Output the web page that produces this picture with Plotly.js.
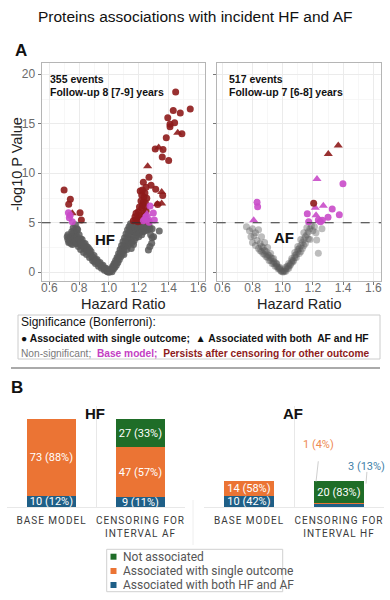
<!DOCTYPE html>
<html><head><meta charset="utf-8">
<script src="https://cdn.plot.ly/plotly-3.0.1.min.js"></script>
<style>
html,body{margin:0;padding:0;background:#fff}
#chart{width:390px;height:600px}
g.x3tick text, g.x4tick text{letter-spacing:1px}
</style>
</head><body><div id="chart"></div>
<script>
// ---------- Panel A data (hazard ratio, -log10 p) ----------
const hfGreyHR = [0.72,0.725,0.73,0.735,0.74,0.745,0.75,0.75,0.755,0.76,0.765,0.77,0.775,0.78,0.78,0.79,0.79,0.795,0.80,0.805,0.81,0.82,0.825,0.83,0.84,0.845,0.85,0.86,0.865,0.87,0.88,0.885,0.89,0.90,0.905,0.91,0.92,0.925,0.93,0.94,0.945,0.95,0.96,0.965,0.97,0.98,0.985,0.99,1.0,
  0.725,0.735,0.745,0.755,0.76,0.765,0.77,0.775,0.785,0.785,0.79,0.80,0.81,0.815,0.815,0.83,0.835,0.85,0.855,0.875,0.87,0.895,0.90,0.915,0.935,0.955,0.975,0.99,0.995,
  1.01,1.015,1.02,1.025,1.03,1.035,1.04,1.045,1.05,1.055,1.06,1.065,1.07,1.075,1.08,1.085,1.09,1.095,1.10,1.105,1.11,1.115,1.12,1.125,1.13,1.135,1.14,1.14,1.145,1.15,1.15,1.16,1.16,1.165,1.17,1.17,1.18,1.18,1.19,1.19,1.20,1.20,1.21,1.21,1.22,1.22,1.23,1.23,1.24,1.25,1.26,1.265,1.27,1.287,1.29,1.29,1.338,
  1.005,1.02,1.03,1.04,1.05,1.06,1.07,1.08,1.09,1.10,1.11,1.12,1.13,1.14,1.15,1.155,1.16,1.17,1.175,1.185,1.195,1.205,1.215,1.225,1.235,1.245,1.255,1.275,1.28,1.30,1.275,1.12,1.10,1.13,1.15];
const hfGreyP = [3.6,3.3,3.0,3.5,3.2,2.9,4.1,3.4,2.8,4.5,3.7,3.1,4.8,4.0,2.9,4.3,3.3,2.6,3.8,2.9,2.3,3.3,2.6,2.0,2.9,2.3,1.8,2.5,2.0,1.5,2.1,1.6,1.2,1.7,1.3,0.9,1.3,1.0,0.6,1.0,0.7,0.4,0.7,0.4,0.2,0.4,0.15,0.05,0.0,
  3.8,3.1,3.6,3.9,3.3,4.2,3.6,3.2,4.4,3.6,2.9,3.3,3.4,2.7,3.0,2.9,2.4,2.6,2.1,1.9,2.3,1.5,1.1,1.2,0.9,0.6,0.35,0.2,0.08,
  0.15,0.35,0.05,0.6,0.3,0.9,0.5,1.2,0.7,1.5,1.0,1.9,1.3,2.3,1.6,2.7,1.9,3.1,2.2,3.5,2.6,3.9,3.0,4.3,3.4,4.6,2.9,3.8,4.9,3.3,4.2,4.6,3.7,2.8,4.9,4.1,4.5,3.5,4.8,4.0,4.4,3.6,4.9,4.2,4.6,3.8,4.8,4.1,4.5,4.85,4.3,2.25,4.7,2.93,3.5,4.4,4.17,
  0.05,0.3,0.55,0.8,1.0,1.4,1.7,2.0,2.4,2.7,3.1,3.5,3.9,4.3,4.7,3.0,4.2,3.2,4.5,3.8,4.4,4.0,4.6,4.2,4.6,4.2,4.5,4.4,3.8,3.6,2.6,2.3,1.8,2.7,2.4];

const hfRedHR = [1.448,1.546,1.432,1.479,1.395,1.441,1.41,1.41,1.49,1.385,1.311,1.363,1.358,1.401,1.269,1.231,1.249,1.283,1.314,1.361,1.327,
  0.699,0.741,0.73,0.806,0.815,
  1.242,1.22,1.254,1.231,1.242,1.22,1.197,1.182,1.19,1.164,1.209,1.21,1.225,1.235,1.215,1.245,1.225,1.25,1.235,1.205,1.2,1.215,1.18,1.23,1.26,1.175,1.195,1.24];
const hfRedP = [18.2,16.5,16.35,16.1,15.6,15.1,14.95,14.7,14.0,13.6,12.45,12.4,11.65,11.3,9.6,9.1,8.6,8.8,8.4,7.75,6.85,
  8.3,7.37,6.87,6.02,5.28,
  8.0,7.8,7.47,7.13,6.63,6.46,6.12,5.96,5.28,5.2,5.79,8.2,8.3,7.6,7.2,7.0,6.8,6.2,6.0,6.6,5.5,5.2,5.3,5.4,5.15,5.6,5.1,5.7];
const hfRedTriHR = [1.462,1.334,1.26,1.354,1.354,1.325,0.754,1.2];
const hfRedTriP  = [14.1,12.6,10.7,8.1,6.95,6.9,5.96,5.25];
const hfMagHR = [1.276,1.298,1.249,1.265,1.305,1.231,0.728,0.734,0.754,1.27,1.24,0.74];
const hfMagP  = [6.7,6.0,5.6,5.35,5.28,5.2,6.02,5.5,5.1,5.05,5.35,5.75];
const hfMagTriHR = [1.255];
const hfMagTriP  = [5.9];

const afGreyHR = [0.76,0.78,0.79,0.80,0.80,0.81,0.82,0.82,0.83,0.84,0.84,0.85,0.86,0.86,0.87,0.88,0.88,0.89,0.90,0.90,0.91,0.92,0.92,0.93,0.94,0.94,0.95,0.96,0.96,0.97,0.98,0.98,0.99,1.0,
  1.01,1.02,1.02,1.03,1.04,1.04,1.05,1.06,1.06,1.07,1.08,1.08,1.09,1.10,1.10,1.11,1.12,1.12,1.13,1.14,1.14,1.15,1.16,1.16,1.17,1.18,1.18,1.19,1.20,1.21,1.22,1.225,1.236,1.26,
  0.85,0.87,0.89,0.91,0.93,0.95,0.97,0.99,1.0,1.01,1.03,1.05,1.07,1.09,1.11,1.13,1.15,1.17,0.86,0.88,0.90,0.92,0.94,0.96,0.98,1.02,1.04,1.06,1.08,1.10,1.12,1.14];
const afGreyP = [4.6,4.2,3.6,4.4,3.0,3.7,2.7,4.0,3.2,2.4,4.3,2.9,2.1,3.6,2.5,1.8,3.0,2.1,1.5,2.5,1.7,1.2,1.9,1.4,0.9,1.4,1.0,0.6,0.9,0.5,0.3,0.5,0.15,0.02,
  0.15,0.35,0.1,0.6,0.4,0.9,0.7,1.0,1.4,1.2,1.5,2.0,1.8,2.1,2.6,2.4,2.7,3.3,3.0,3.3,4.0,3.6,3.8,4.5,4.1,4.4,3.3,4.7,4.2,4.6,4.0,3.26,1.92,4.4,
  2.2,1.9,1.6,1.2,0.9,0.6,0.35,0.1,0.1,0.05,0.35,0.8,1.1,1.5,1.9,2.4,2.9,3.4,2.6,2.2,1.8,1.5,1.1,0.8,0.4,0.5,0.6,1.2,1.7,2.3,2.1,2.7];
const afRedHR = [1.205];
const afRedP  = [6.97];
const afRedTriHR = [1.368,1.302];
const afRedTriP  = [12.8,11.95];
const afMagHR = [1.399,0.83,0.834,1.328,1.163,1.375,1.3,1.236,1.262,1.172,1.25];
const afMagP  = [8.95,7.07,6.63,6.39,5.92,5.82,5.55,5.28,5.25,5.11,5.1];
const afMagTriHR = [1.227,1.269,1.216,1.221,1.245,0.808];
const afMagTriP  = [9.42,6.73,6.53,5.76,5.18,5.25];

const xTicks = [0.6,0.8,1.0,1.2,1.4,1.6];
const yTicks = [0,5,10,15,20];
const threshold = 5;

// ---------- Panel B data ----------
const hfCats = ['BASE MODEL','CENSORING FOR<br>INTERVAL AF'];
const afCats = ['BASE MODEL','CENSORING FOR<br>INTERVAL HF'];
const hfBoth = [10, 9], hfSingle = [73, 47], hfNot = [0, 27];
const afBoth = [10, 3], afSingle = [14, 1], afNot = [0, 20];
const groupNames = ['Associated with both HF and AF','Associated with single outcome','Not associated'];

// ---------- styling ----------
const W = 390, H = 600;
const px = v => v / W, py = v => 1 - v / H;
const RED = '#8e1b1b', MAG = '#c94bc9', GREY = '#5a5a5a';
const C_BOTH = '#1f5f87', C_SINGLE = '#eb7434', C_NOT = '#1f6d28';

function pts(x, y, xa, ya, color, symbol, size, op) {
  return {type:'scatter', mode:'markers', x:x, y:y, xaxis:xa, yaxis:ya, hoverinfo:'skip',
    marker:{color:color, symbol:symbol, size:size, opacity:op, line:{width:0}}};
}

const traces = [
  pts(hfGreyHR, hfGreyP, 'x', 'y', GREY, 'circle', 7, 0.85),
  pts(hfRedHR, hfRedP, 'x', 'y', RED, 'circle', 7, 0.9),
  pts(hfRedTriHR, hfRedTriP, 'x', 'y', RED, 'triangle-up', 8, 0.9),
  pts(hfMagHR, hfMagP, 'x', 'y', MAG, 'circle', 7, 0.9),
  pts(hfMagTriHR, hfMagTriP, 'x', 'y', MAG, 'triangle-up', 8, 0.9),
  pts(afGreyHR, afGreyP, 'x2', 'y2', GREY, 'circle', 7, 0.4),
  pts(afMagHR, afMagP, 'x2', 'y2', MAG, 'circle', 7, 0.9),
  pts(afMagTriHR, afMagTriP, 'x2', 'y2', MAG, 'triangle-up', 8, 0.9),
  pts(afRedHR, afRedP, 'x2', 'y2', RED, 'circle', 7, 0.9),
  pts(afRedTriHR, afRedTriP, 'x2', 'y2', RED, 'triangle-up', 8, 0.9)
];

function barSet(cats, both, single, not, xa, ya) {
  const totals = cats.map((c, i) => both[i] + single[i] + not[i]);
  const series = [[both, C_BOTH], [single, C_SINGLE], [not, C_NOT]];
  series.forEach(([vals, col], k) => {
    traces.push({type:'bar', x:cats, y:vals, xaxis:xa, yaxis:ya, width:0.56, name:groupNames[k],
      marker:{color:col, line:{width:0}}, hoverinfo:'skip',
      text: vals.map((v, i) => v >= 5 ? v + ' (' + Math.round(100 * v / totals[i]) + '%)' : ''),
      textposition:'inside', insidetextanchor:'middle', constraintext:'none',
      textfont:{family:'Roboto, sans-serif', size:11, color:'#ffffff'}});
  });
  return totals;
}
const hfTot = barSet(hfCats, hfBoth, hfSingle, hfNot, 'x3', 'y3');
const afTot = barSet(afCats, afBoth, afSingle, afNot, 'x4', 'y4');

const volX = {showgrid:true, gridcolor:'#ebebeb', gridwidth:1,
  minor:{dtick:0.1, showgrid:true, gridcolor:'#f4f4f4', gridwidth:0.7},
  tickvals:xTicks, ticktext:xTicks.map(v => v.toFixed(1)),
  showline:true, mirror:true, linecolor:'#b5b5b5', linewidth:1,
  ticks:'outside', ticklen:3, tickcolor:'#777', tickfont:{size:12, color:'#6b6b6b'}, ticklabelstandoff:-7, zeroline:false, fixedrange:true};
const volY = {showgrid:true, gridcolor:'#ebebeb', gridwidth:1,
  minor:{dtick:2.5, showgrid:true, gridcolor:'#f4f4f4', gridwidth:0.7},
  tickvals:yTicks, range:[-0.88, 21.14],
  showline:true, mirror:true, linecolor:'#b5b5b5', linewidth:1,
  ticks:'outside', ticklen:3, tickcolor:'#777', tickfont:{size:12, color:'#6b6b6b'}, zeroline:false, fixedrange:true};

const barX = {type:'category', range:[-0.5, 1.5], tickson:'boundaries', ticks:'', showgrid:true,
  gridcolor:'#e8e8e8', showline:true, linecolor:'#e8e8e8', zeroline:false,
  tickfont:{family:'Roboto, sans-serif', size:10, color:'#3a3a3a'}, ticklabelstandoff:4, fixedrange:true};
const barY = {range:[0, 95], visible:false, fixedrange:true};

const ann = [];
function txt(t, x, y, size, opts) {
  ann.push(Object.assign({text:t, x:px(x), y:py(y), xref:'paper', yref:'paper', showarrow:false,
    xanchor:'center', yanchor:'middle', font:{size:size, color:'#111'}}, opts || {}));
}
txt('Proteins associations with incident HF and AF', 195, 17, 15.5);
txt('<b>A</b>', 21, 51, 17);
txt('<b>B</b>', 17, 387, 17);
txt('<b>355 events</b>', 48, 79, 10.5, {xanchor:'left'});
txt('<b>Follow-up 8 [7-9] years</b>', 48, 92, 10.5, {xanchor:'left'});
txt('<b>517 events</b>', 227, 79, 10.5, {xanchor:'left'});
txt('<b>Follow-up 7 [6-8] years</b>', 227, 92, 10.5, {xanchor:'left'});
txt('<b>HF</b>', 105, 239, 15);
txt('<b>AF</b>', 284, 237, 15);
txt('-log10 P Value', 17, 164, 14.5, {textangle:-90, font:{size:14.5, color:'#222'}});
txt('Hazard Ratio', 123.5, 304.5, 14.5, {font:{size:14.5, color:'#222'}});
txt('Hazard Ratio', 299, 304.5, 14.5, {font:{size:14.5, color:'#222'}});
txt('Significance (Bonferroni):', 19, 322, 12, {xanchor:'left'});
txt('<b>● Associated with single outcome;  ▲ Associated with both  AF and HF</b>', 19, 339, 10.3, {xanchor:'left'});
txt('<span style="color:#7a7a7a">Non-significant;</span>  <b><span style="color:#c43fc4">Base model;</span>  <span style="color:#8e1b1b">Persists after censoring for other outcome</span></b>', 19, 353, 10.2, {xanchor:'left'});
txt('<b>HF</b>', 95, 413, 15);
txt('<b>AF</b>', 293, 413, 15);
// outside labels for thin segments (AF, censoring)
ann.push({text: afSingle[1] + ' (' + Math.round(100 * afSingle[1] / afTot[1]) + '%)', x:0.77, y:afTot[1] + 35,
  xref:'x4', yref:'y4', showarrow:false, font:{family:'Roboto, sans-serif', size:11, color:'#ee8a52'}});
ann.push({text: afBoth[1] + ' (' + Math.round(100 * afBoth[1] / afTot[1]) + '%)', x:1.3, y:afTot[1] + 14.5,
  xref:'x4', yref:'y4', showarrow:false, font:{family:'Roboto, sans-serif', size:11, color:'#3f7fa8'}});
// bar legend
const legY = [556.7, 571, 585];
[[C_NOT, groupNames[2]], [C_SINGLE, groupNames[1]], [C_BOTH, groupNames[0]]].forEach(([c, n], i) => {
  txt(n, 120.5, legY[i], 12, {xanchor:'left', font:{family:'Roboto, sans-serif', size:12, color:'#555'}});
});

const shapes = [
  {type:'line', xref:'x domain', yref:'y', x0:0, x1:1, y0:threshold, y1:threshold, line:{color:'#333', width:1.1, dash:'dash'}},
  {type:'line', xref:'x2 domain', yref:'y2', x0:0, x1:1, y0:threshold, y1:threshold, line:{color:'#333', width:1.1, dash:'dash'}},
  {type:'rect', xref:'paper', yref:'paper', x0:px(18), x1:px(380), y0:py(315), y1:py(359), line:{color:'#cccccc', width:1}},
  {type:'line', xref:'paper', yref:'paper', x0:px(11), x1:px(380), y0:py(368), y1:py(368), line:{color:'#aaaaaa', width:2}},
  {type:'line', xref:'paper', yref:'paper', x0:px(193), x1:px(193), y0:py(500), y1:py(545), line:{color:'#eeeeee', width:1}},
  {type:'line', xref:'x4', yref:'y4', x0:0.77, x1:0.745, y0:afTot[1] + 19, y1:afTot[1], line:{color:'#cfcfcf', width:1}},
  {type:'line', xref:'x4', yref:'y4', x0:1.31, x1:1.3, y0:afTot[1] + 9, y1:afTot[1] - 2, line:{color:'#cfcfcf', width:1}},
  {type:'rect', xref:'paper', yref:'paper', x0:px(106.7), x1:px(282.7), y0:py(549.3), y1:py(591.7), line:{color:'#d0d0d0', width:1}}
];
[C_NOT, C_SINGLE, C_BOTH].forEach((c, i) => {
  shapes.push({type:'rect', xref:'paper', yref:'paper', x0:px(110.5), x1:px(116.5), y0:py(legY[i] + 3), y1:py(legY[i] - 3), fillcolor:c, line:{width:0}});
});

const layout = {
  width:W, height:H, margin:{l:0, r:0, t:0, b:0}, showlegend:false, barmode:'stack',
  paper_bgcolor:'#fff', plot_bgcolor:'#fff',
  font:{family:'"Liberation Sans", Arial, sans-serif', color:'#222'},
  xaxis: Object.assign({}, volX, {domain:[px(41.6), px(205)], range:[0.548, 1.645], anchor:'y'}),
  yaxis: Object.assign({}, volY, {domain:[py(281), py(63)], anchor:'x'}),
  xaxis2: Object.assign({}, volX, {domain:[px(216.7), px(381)], range:[0.563, 1.651], anchor:'y2'}),
  yaxis2: Object.assign({}, volY, {domain:[py(281), py(63)], anchor:'x2', showticklabels:false}),
  xaxis3: Object.assign({}, barX, {domain:[px(7), px(185)], anchor:'y3'}),
  yaxis3: Object.assign({}, barY, {domain:[py(507), py(406)], anchor:'x3'}),
  xaxis4: Object.assign({}, barX, {domain:[px(204), px(384)], anchor:'y4'}),
  yaxis4: Object.assign({}, barY, {domain:[py(507), py(406)], anchor:'x4'}),
  annotations: ann, shapes: shapes
};
Plotly.newPlot('chart', traces, layout, {displayModeBar:false, staticPlot:true});
</script></body></html>
